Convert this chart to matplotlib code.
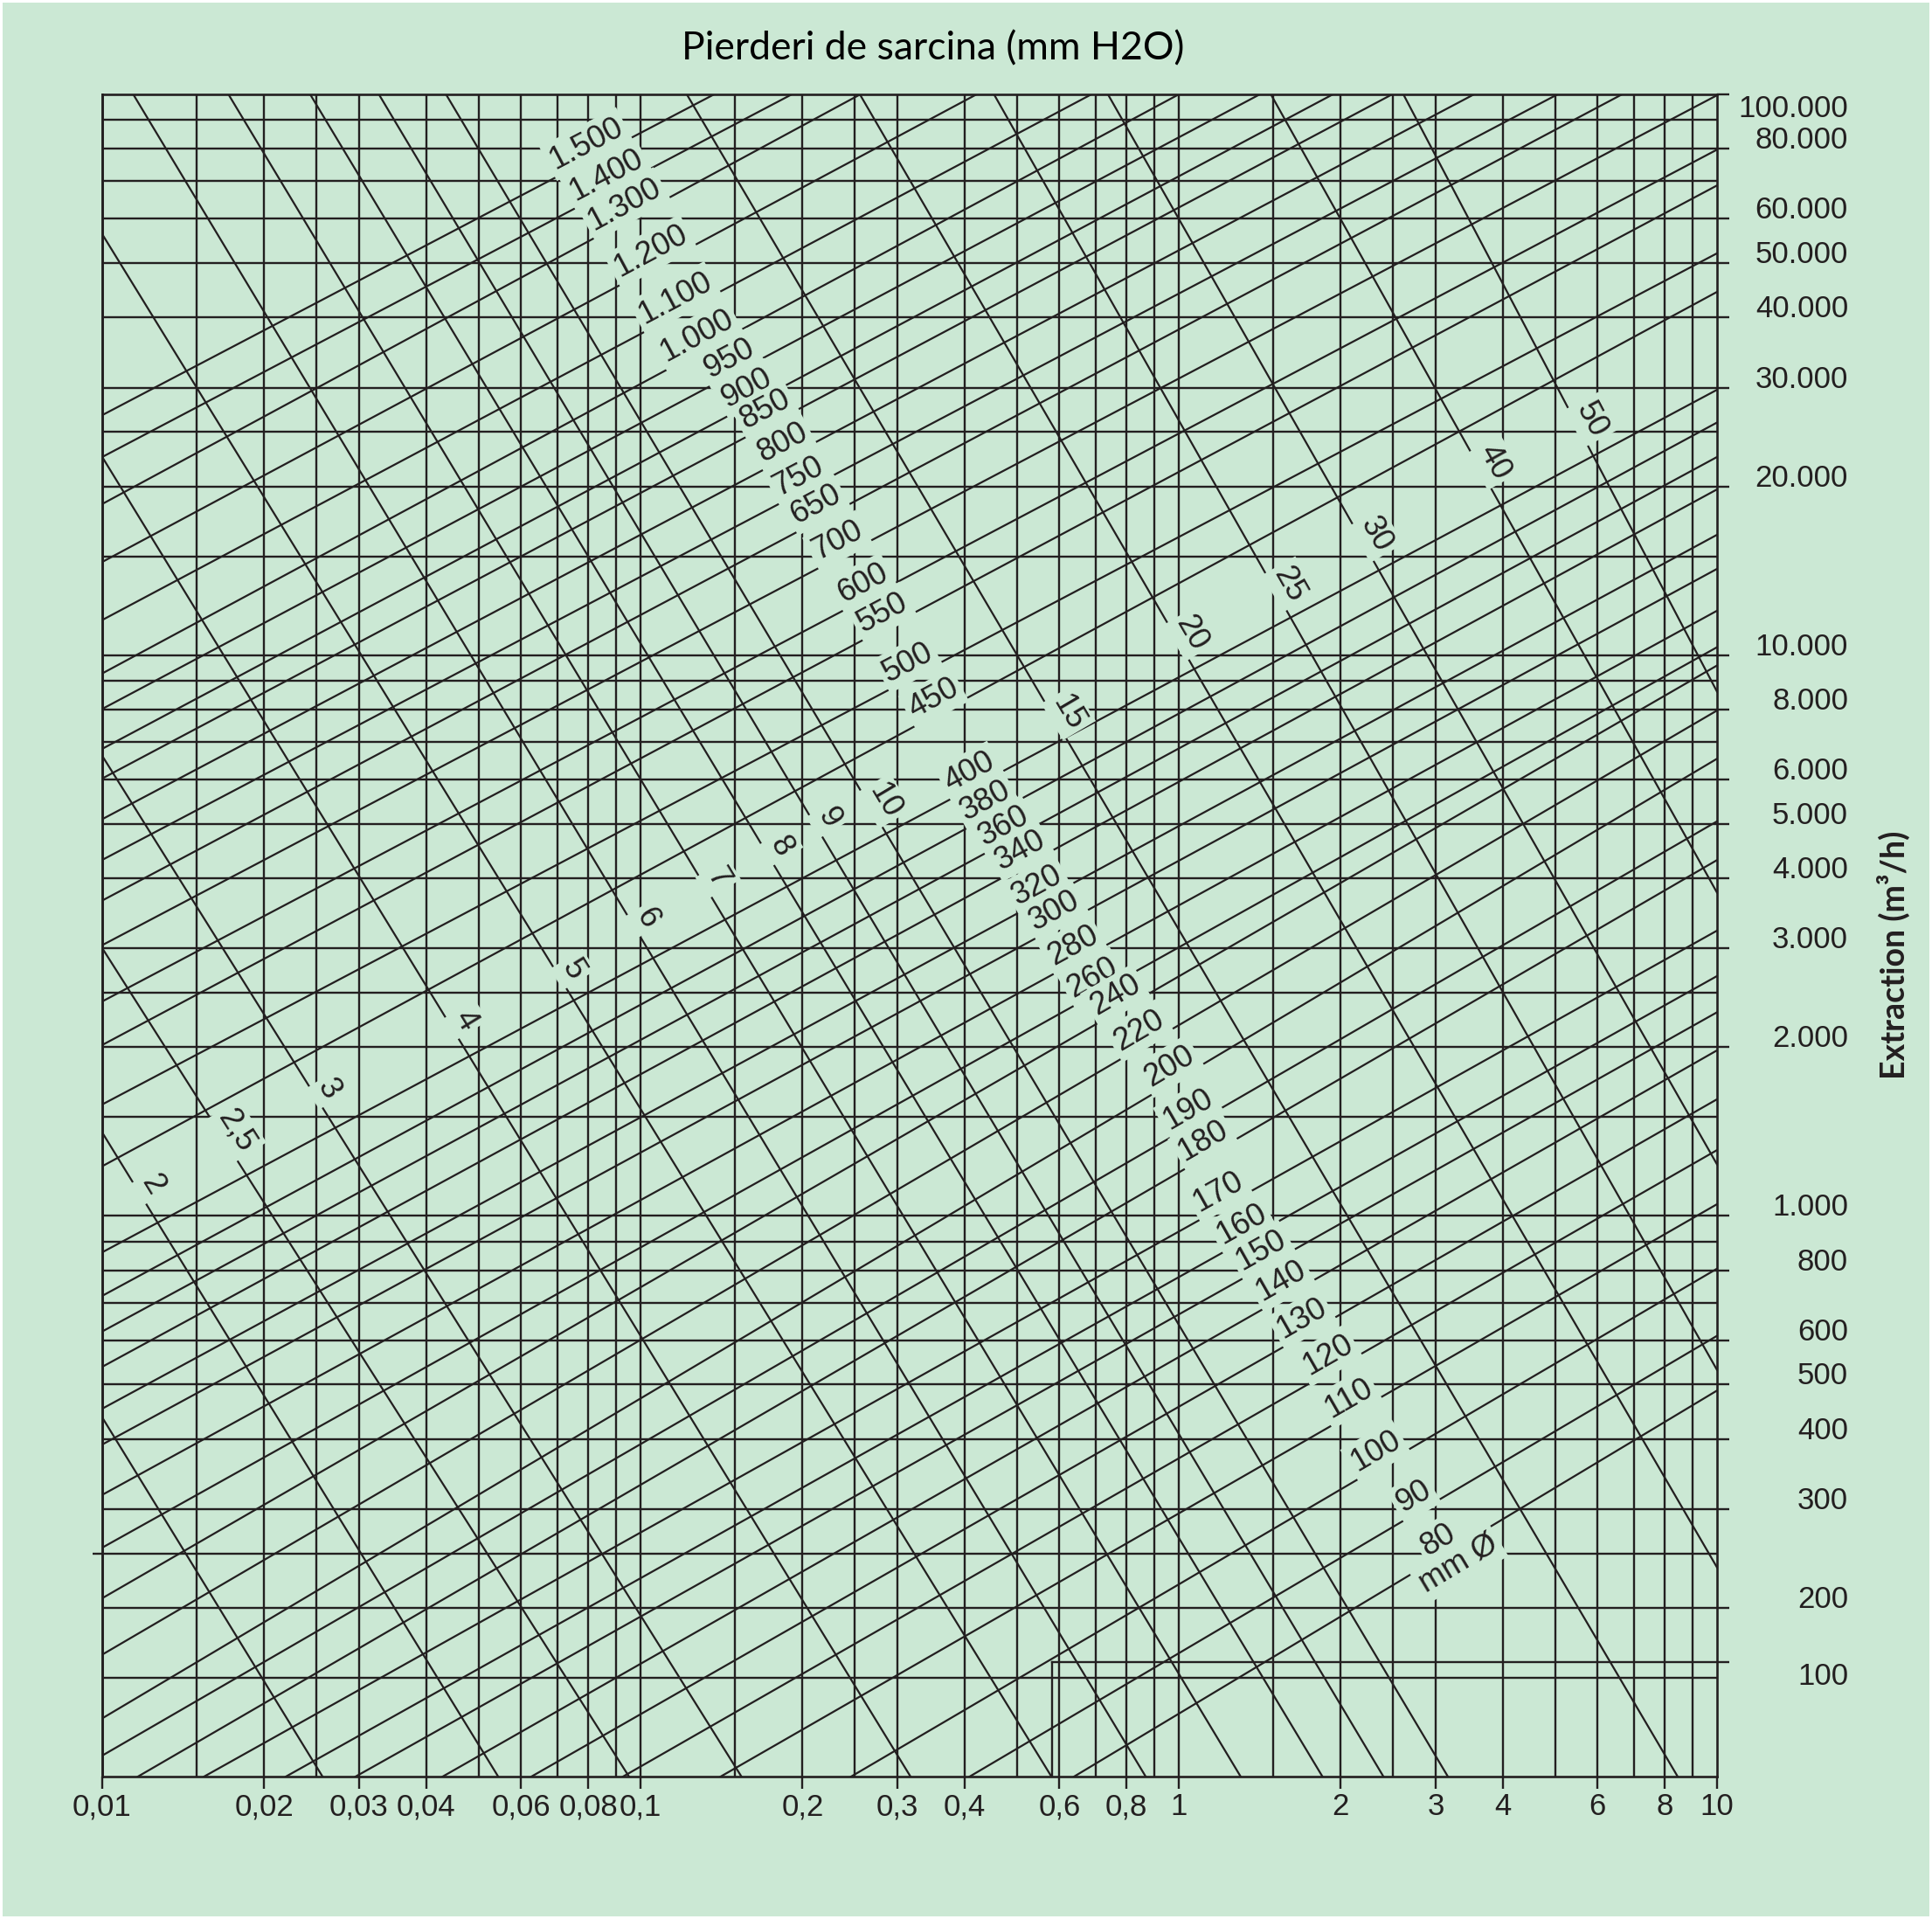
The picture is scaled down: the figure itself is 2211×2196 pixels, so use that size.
import numpy as np
import matplotlib.pyplot as plt
from matplotlib.ticker import NullLocator
from matplotlib.patches import Rectangle

plt.rcParams['font.family'] = ['Liberation Sans', 'DejaVu Sans']

BG = '#cbe8d4'
INK = '#231f20'

title = 'Pierderi de sarcina (mm H2O)'
y_title = 'Extraction (m³/h)'

# grid of the chart: pressure loss (x) and flow (y)
r_grid = [0.015, 0.02, 0.025, 0.03, 0.04, 0.05, 0.06, 0.07, 0.08, 0.09,
          0.1, 0.15, 0.2, 0.25, 0.3, 0.4, 0.5, 0.6, 0.7, 0.8, 0.9,
          1, 1.5, 2, 2.5, 3, 4, 5, 6, 7, 8, 9]
q_grid = [150, 200, 250, 300, 400, 500, 600, 700, 800, 900,
          1000, 1500, 2000, 2500, 3000, 4000, 5000, 6000, 7000, 8000, 9000,
          10000, 15000, 20000, 25000, 30000, 40000, 50000, 60000, 70000,
          80000, 90000]

r_ticks = [0.01, 0.02, 0.03, 0.04, 0.06, 0.08, 0.1, 0.2, 0.3, 0.4, 0.6, 0.8,
           1, 2, 3, 4, 6, 8, 10]
r_tick_labels = ['0,01', '0,02', '0,03', '0,04', '0,06', '0,08', '0,1', '0,2',
                 '0,3', '0,4', '0,6', '0,8', '1', '2', '3', '4', '6', '8', '10']

# example reading drawn in the lower right corner (its line carries the "100" label)
example_r = 0.582
example_q = 160

q_ticks = [100000, 80000, 60000, 50000, 40000, 30000, 20000, 10000, 8000, 6000,
           5000, 4000, 3000, 2000, 1000, 800, 600, 500, 400, 300, 200, example_q]
q_tick_labels = ['100.000', '80.000', '60.000', '50.000', '40.000', '30.000',
                 '20.000', '10.000', '8.000', '6.000', '5.000', '4.000', '3.000',
                 '2.000', '1.000', '800', '600', '500', '400', '300', '200', '100']

# duct diameter lines (mm Ø): two points read on each line
diam_labels = ['1.500', '1.400', '1.300', '1.200', '1.100', '1.000', '950', '900',
               '850', '800', '750', '650', '700', '600', '550', '500', '450', '400',
               '380', '360', '340', '320', '300', '280', '260', '240', '220', '200',
               '190', '180', '170', '160', '150', '140', '130', '120', '110', '100',
               '90', '80']
diam_r1 = [0.01, 0.01, 0.01, 0.01, 0.01, 0.01, 0.01, 0.01, 0.01, 0.01,
           0.01, 0.01, 0.01, 0.01, 0.01, 0.01, 0.01, 0.01, 0.01, 0.01,
           0.01, 0.01, 0.01, 0.01, 0.01, 0.01, 0.01, 0.01, 0.01,
           0.01165, 0.01546, 0.02194, 0.02956, 0.0429, 0.06271, 0.0928,
           0.1409, 0.2462, 0.4088, 0.639]
diam_q1 = [26790, 22560, 18600, 14660, 11550, 9275, 8017, 6806, 6025, 5098,
           4313, 3650, 3039, 2412, 2017, 1580, 1226, 861, 720, 622,
           538, 453, 391, 318, 256, 208, 165, 127, 109,
           100, 100, 100, 100, 100, 100, 100, 100, 100, 100, 100]
diam_r2 = [0.137, 0.191, 0.256, 0.421, 0.688, 1.0, 1.414, 1.933, 2.491, 3.535,
           5.054, 6.66, 10, 10, 10, 10, 10, 10, 10, 10,
           10, 10, 10, 10, 10, 10, 10, 10, 10,
           10, 10, 10, 10, 10, 10, 10, 10, 10, 10, 10]
diam_q2 = [100000, 100000, 100000, 100000, 100000, 100000, 100000, 100000,
           100000, 100000, 100000, 100000, 99640, 79700, 68800, 52070, 44440,
           29730, 25990, 22560, 19750, 16390, 14250, 12000, 10330, 9583, 7966,
           6535, 5053, 4310, 3226, 2677, 2307, 1973, 1614, 1310, 1049, 805,
           611, 488]
# loss value where each diameter label sits on its line
diam_label_r = [0.0818, 0.0889, 0.0963, 0.1076, 0.1195, 0.1314, 0.1507, 0.1623,
                0.1756, 0.1891, 0.2025, 0.2183, 0.2396, 0.2663, 0.2897, 0.3236,
                0.3614, 0.4213, 0.4511, 0.4881, 0.5229, 0.5629, 0.6059, 0.6556,
                0.7137, 0.7887, 0.8716, 0.9945, 1.0765, 1.147, 1.222, 1.350,
                1.469, 1.598, 1.748, 1.953, 2.136, 2.399, 2.824, 3.137]
unit_label_r = 3.198

# air velocity lines (m/s)
vel_labels = ['', '2', '2,5', '3', '4', '5', '6', '7', '8', '9', '10', '15',
              '20', '25', '30', '40', '50']
vel_r1 = [0.01, 0.01, 0.01, 0.01, 0.01, 0.01, 0.01142, 0.01716, 0.02434,
          0.03266, 0.04352, 0.1219, 0.2556, 0.4537, 0.7386, 1.483, 2.614]
vel_q1 = [437, 1408, 3002, 6612, 22560, 56320, 100000, 100000, 100000,
          100000, 100000, 100000, 100000, 100000, 100000, 100000, 100000]
vel_r2 = [0.02566, 0.0544, 0.0952, 0.154, 0.3174, 0.580, 0.868, 1.303, 1.849,
          2.40, 3.162, 8.45, 10, 10, 10, 10, 10]
vel_q2 = [100, 100, 100, 100, 100, 100, 100, 100, 100, 100, 100, 100,
          236, 531, 1235, 3770, 8606]
# flow value where each velocity label sits on its line
vel_label_q = [None, 1098, 1371, 1629, 2162, 2660, 3290, 3870, 4413, 4959,
               5321, 7661, 10590, 12970, 15880, 21400, 25540]

W, H = 2211, 2196
fig = plt.figure(figsize=(W / 100, H / 100), dpi=100)
fig.patch.set_facecolor('white')
fig.add_artist(Rectangle((3 / W, 3 / H), 1 - 6 / W, 1 - 6 / H,
                         transform=fig.transFigure, fc=BG, ec='none', zorder=-10))

ax = fig.add_axes([117 / W, (H - 2033) / H, 1848 / W, 1925 / H])
ax.set_facecolor(BG)
ax.set_xscale('log')
ax.set_yscale('log')
ax.set_xlim(0.01, 10)
ax.set_ylim(100, 100000)

LW = 1.7
for r in r_grid:
    ax.axvline(r, color=INK, lw=LW, zorder=1)
for q in q_grid:
    ax.axhline(q, color=INK, lw=LW, zorder=1)

for r1, q1, r2, q2 in zip(diam_r1, diam_q1, diam_r2, diam_q2):
    ax.axline((r1, q1), (r2, q2), color=INK, lw=1.6, zorder=2)
for r1, q1, r2, q2 in zip(vel_r1, vel_q1, vel_r2, vel_q2):
    ax.axline((r1, q1), (r2, q2), color=INK, lw=1.6, zorder=2)

ax.plot([example_r, example_r], [100, example_q], color=INK, lw=LW, zorder=1)
ax.plot([example_r, 10], [example_q, example_q], color=INK, lw=LW, zorder=1)


def screen_angle(p1, p2):
    a = ax.transData.transform(p1)
    b = ax.transData.transform(p2)
    return np.degrees(np.arctan2(b[1] - a[1], b[0] - a[0]))


box = dict(boxstyle='square,pad=0.12', fc=BG, ec='none')
lab_kw = dict(fontsize=26, color=INK, rotation_mode='anchor', ha='center',
              bbox=box, zorder=4)

for i, lab in enumerate(diam_labels):
    r1, q1, r2, q2 = diam_r1[i], diam_q1[i], diam_r2[i], diam_q2[i]
    k = np.log(q2 / q1) / np.log(r2 / r1)
    ang = screen_angle((r1, q1), (r2, q2))
    r = diam_label_r[i]
    ax.text(r, q1 * (r / r1) ** k, lab, rotation=ang, va='bottom', **lab_kw)
    if lab == '80':
        r = unit_label_r
        ax.text(r, q1 * (r / r1) ** k, 'mm Ø', rotation=ang, va='top', **lab_kw)

for i, lab in enumerate(vel_labels):
    if not lab:
        continue
    r1, q1, r2, q2 = vel_r1[i], vel_q1[i], vel_r2[i], vel_q2[i]
    s = np.log(q2 / q1) / np.log(r2 / r1)
    ang = screen_angle((r1, q1), (r2, q2))
    q = vel_label_q[i]
    ax.text(r1 * (q / q1) ** (1 / s), q, lab, rotation=ang, va='bottom', **lab_kw)

ax.set_xticks(r_ticks)
ax.set_xticklabels(r_tick_labels)
ax.set_yticks(q_ticks)
ax.set_yticklabels(q_tick_labels)
ax.xaxis.set_minor_locator(NullLocator())
ax.yaxis.set_minor_locator(NullLocator())
ax.yaxis.tick_right()
ax.tick_params(axis='x', direction='out', length=10, width=LW, pad=3,
               labelsize=25, colors=INK)
ax.tick_params(axis='y', direction='out', length=10, width=LW, pad=98,
               labelsize=25, colors=INK)
ylabs = ax.get_yticklabels()
plt.setp(ylabs, ha='right', va='baseline')
ylabs[0].set_va('top')
ylabs[-1].set_va('top')

for sp in ax.spines.values():
    sp.set_linewidth(1.9)
    sp.set_color(INK)

# small tick on the left side at 250
sec = ax.secondary_yaxis('left')
sec.set_yticks([250])
sec.set_yticklabels([''])
sec.yaxis.set_minor_locator(NullLocator())
sec.tick_params(direction='out', length=8, width=LW, colors=INK)
sec.spines['left'].set_linewidth(1.9)
sec.spines['left'].set_color(INK)

fig.text(1068 / W, 1 - 56 / H, title, ha='center', va='center', fontsize=32,
         family=['Lato', 'DejaVu Sans'], color='black')
fig.text(2167 / W, 1 - 1093 / H, y_title, ha='center', va='center', rotation=90,
         fontsize=27, fontweight='bold', family=['Lato', 'DejaVu Sans'],
         color=INK)

fig.savefig('out.png', dpi=100, facecolor=fig.get_facecolor())
